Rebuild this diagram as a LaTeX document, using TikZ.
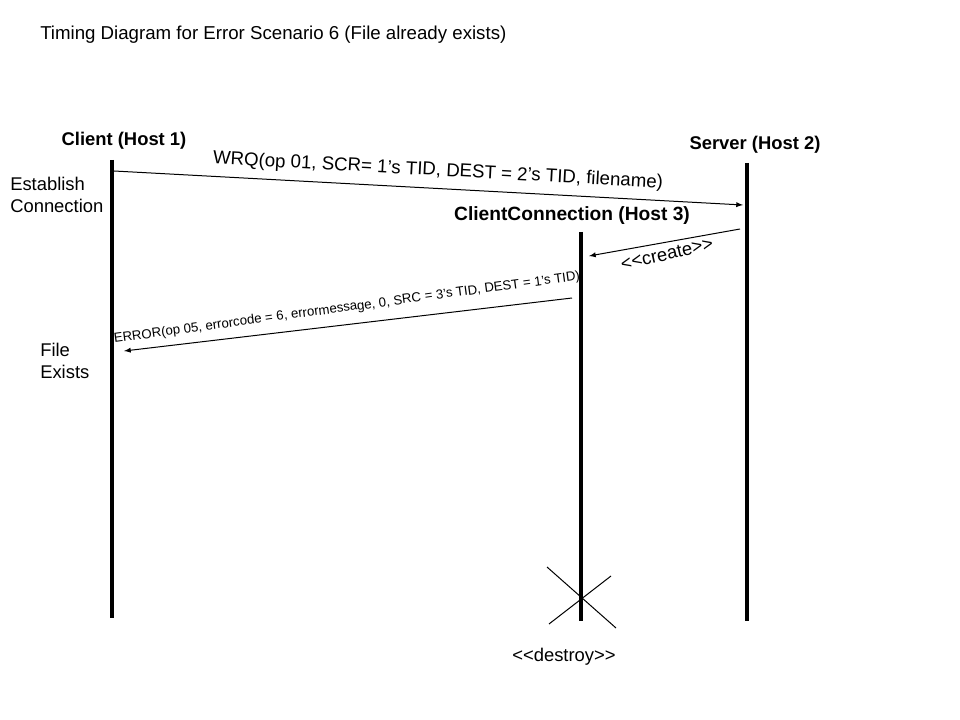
\documentclass[tikz,border=0pt]{standalone}
\usepackage{fontspec}
\setmainfont{Liberation Sans}
\usetikzlibrary{arrows,calc}

\begin{document}
\begin{tikzpicture}[x=0.75pt,y=-0.75pt]
\tikzset{
	host label/.style = {font=\fontsize{13.8}{16}\selectfont\bfseries, inner sep=0},
	note label/.style = {font=\fontsize{13.8}{16.5}\selectfont, inner sep=0, align=left},
	life line/.style = {line width=3pt},
	message/.style = {-latex, line width=0.75pt},
}
\useasboundingbox (0,0) rectangle (960,720);

\node(title)[note label, font=\fontsize{14}{16}\selectfont, anchor=west] at (40,35) {Timing Diagram for Error Scenario 6 (File already exists)};

\node(client)[host label] at (124,141) {Client (Host 1)};
\node(server)[host label] at (755,145) {Server (Host 2)};
\node(conn)[host label, font=\fontsize{14.4}{16}\selectfont\bfseries] at (572,216) {ClientConnection (Host 3)};

\coordinate (client-top) at (112,160);
\coordinate (client-end) at (112,618);
\coordinate (server-top) at (747,163);
\coordinate (server-end) at (747,621);
\coordinate (conn-top) at (581,232);
\coordinate (conn-end) at (581,621);
\draw [life line] (client-top) -- (client-end);
\draw [life line] (server-top) -- (server-end);
\draw [life line] (conn-top) -- (conn-end);

\node(establish)[note label, anchor=west] at (10,195) {Establish\\Connection};
\node(exists)[note label, anchor=west] at (40,361) {File\\Exists};

\coordinate (wrq-from) at (114,171);
\coordinate (wrq-to) at (743,205);
\draw [message] (wrq-from) -- (wrq-to);
\node(wrq)[note label, font=\fontsize{14}{16}\selectfont, rotate=-3.1] at (438,171) {WRQ(op 01, SCR= 1’s TID, DEST = 2’s TID, filename)};

\coordinate (create-from) at (740,229);
\coordinate (create-to) at (589,256);
\draw [message] (create-from) -- (create-to);
\node(create)[note label, rotate=13] at (667,254) {{<}{<}create{>}{>}};

\coordinate (error-from) at (572,298);
\coordinate (error-to) at (124,351);
\draw [message] (error-from) -- (error-to);
\node(error)[note label, font=\fontsize{9.9}{12}\selectfont, rotate=7.7] at (347,308) {ERROR(op 05, errorcode = 6, errormessage, 0, SRC = 3’s TID, DEST = 1’s TID)};

% destroy mark
\coordinate (x1) at (547,567);
\coordinate (x2) at (616,628);
\coordinate (x3) at (549,624);
\coordinate (x4) at (611,576);
\draw [line width=0.75pt] (x1) -- (x2);
\draw [line width=0.75pt] (x3) -- (x4);
\node(destroy)[note label] at (564,657) {{<}{<}destroy{>}{>}};

\end{tikzpicture}
\end{document}
